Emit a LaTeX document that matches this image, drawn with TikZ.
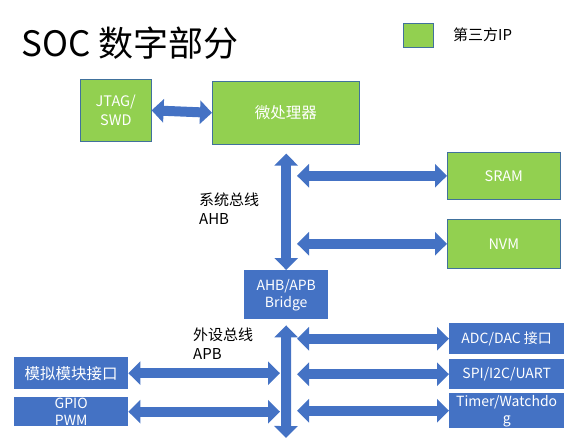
\documentclass[tikz,border=0pt]{standalone}
\usepackage{fontspec}
\setmainfont{Noto Sans CJK SC}
\usetikzlibrary{arrows.meta}
\definecolor{ipgreen}{HTML}{92D050}
\definecolor{socblue}{HTML}{4472C4}
\definecolor{edgeblue}{HTML}{41719C}
\tikzset{
  ipbox/.style={draw=edgeblue, line width=0.6pt, fill=ipgreen, text=white, anchor=north west,
    inner sep=0pt, align=center, font=\fontsize{14.5}{18}\selectfont},
  socbox/.style={fill=socblue, text=white, anchor=north west,
    inner sep=0pt, align=center, font=\fontsize{14}{17}\selectfont},
  bus/.style={draw=socblue, line width=10pt,
    {Triangle[length=12pt,width=23pt]}-{Triangle[length=12pt,width=23pt]}},
  buslabel/.style={anchor=north west, align=left, inner sep=0pt, font=\fontsize{15}{19}\selectfont}
}
\begin{document}
\begin{tikzpicture}[x=1pt, y=-1pt]
  \useasboundingbox (0,0) rectangle (567,440);

  % title and legend
  \node[anchor=west, inner sep=0pt, font=\fontsize{35}{40}\selectfont] (title) at (21,43) {SOC 数字部分};
  \node[ipbox, minimum width=30pt, minimum height=24pt] (legend) at (403,23) {};
  \node[anchor=west, inner sep=0pt, font=\fontsize{15}{18}\selectfont] (legendtext) at (453,35) {第三方IP};

  % third party IP
  \node[ipbox, minimum width=71pt, minimum height=62pt, font=\fontsize{14.5}{19}\selectfont] (jtag) at (80,79) {JTAG/\\SWD};
  \node[ipbox, minimum width=147pt, minimum height=63pt, font=\fontsize{15.5}{18}\selectfont] (cpu) at (212,81) {微处理器};
  \node[ipbox, minimum width=113pt, minimum height=47pt] (sram) at (447,152) {SRAM};
  \node[ipbox, minimum width=113pt, minimum height=49pt] (nvm) at (447,219) {NVM};

  % own blocks
  \node[socbox, minimum width=84pt, minimum height=49pt] (bridge) at (244,270) {AHB/APB\\Bridge};
  \node[socbox, minimum width=115pt, minimum height=31pt] (adc) at (449,323) {ADC/DAC 接口};
  \node[socbox, minimum width=115pt, minimum height=30pt] (spi) at (449,359) {SPI/I2C/UART};
  \node[socbox, minimum width=115pt, minimum height=35pt] (timer) at (449,393) {Timer/Watchdo\\g};
  \node[socbox, minimum width=114pt, minimum height=32pt, font=\fontsize{15.5}{18}\selectfont] (analog) at (14,357) {模拟模块接口};
  \node[socbox, minimum width=114pt, minimum height=29pt] (gpio) at (14,397) {GPIO\\PWM};

  % bus labels
  \node[buslabel] (ahblabel) at (199,193) {系统总线\\AHB};
  \node[buslabel] (apblabel) at (193,328) {外设总线\\APB};

  % buses
  \coordinate (ahbtap) at (297,0);
  \coordinate (apbtap) at (297,0);
  \coordinate (apbleft) at (280,0);
  \coordinate (apbend) at (286,438);
  \draw[bus] (jtag.east) -- (cpu.west);
  \draw[bus] ([yshift=-9pt]cpu.south -| bridge.north) -- (bridge.north);
  \draw[bus] (ahbtap |- sram.west) -- (sram.west);
  \draw[bus] (ahbtap |- nvm.west) -- (nvm.west);
  \draw[bus] ([yshift=-6pt]bridge.south) -- (apbend);
  \draw[bus] (apbtap |- adc.west) -- (adc.west);
  \draw[bus] (apbtap |- spi.west) -- (spi.west);
  \draw[bus] (apbtap |- timer.west) -- (timer.west);
  \draw[bus] (analog.east) -- (apbleft |- analog.east);
  \draw[bus] (gpio.east) -- (apbleft |- gpio.east);
\end{tikzpicture}
\end{document}
